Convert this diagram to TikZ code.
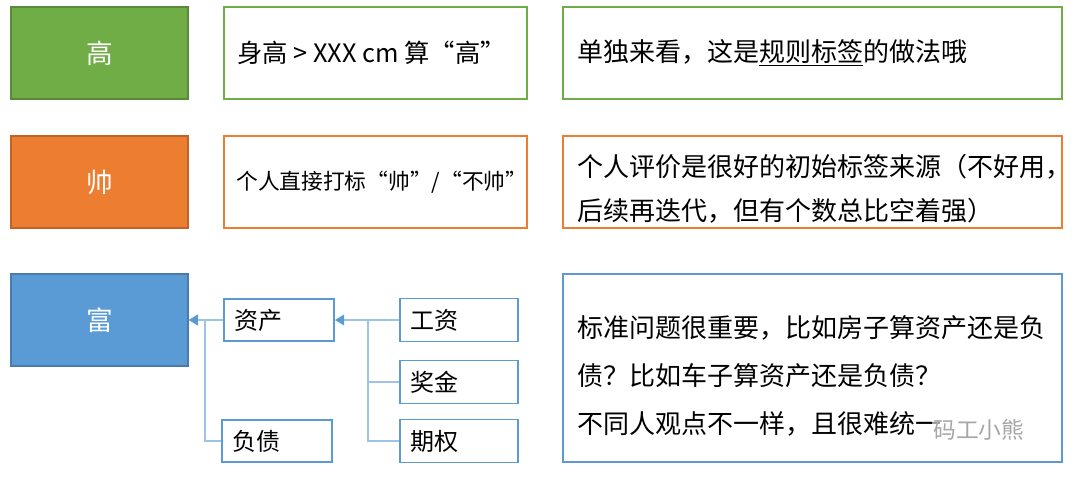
\documentclass[tikz,border=0pt]{standalone}
\usepackage{fontspec}
\setmainfont{Noto Sans CJK SC}
\usetikzlibrary{arrows.meta}
\definecolor{cg}{HTML}{70AD47}
\definecolor{co}{HTML}{ED7D31}
\definecolor{cb}{HTML}{5B9BD5}
\definecolor{cl}{HTML}{9DC3E6}
\begin{document}
\begin{tikzpicture}[x=0.75pt,y=-0.75pt,
  box/.style={draw=#1,line width=1.3pt,inner sep=0pt},
  head/.style={fill=#1,draw=#1!80!black,line width=0.8pt,text=white,font=\fontsize{20}{24}\selectfont},
  t/.style={font=\fontsize{19.5}{24}\selectfont,anchor=west,inner sep=0pt},
  s/.style={font=\fontsize{18}{22}\selectfont},
  conn/.style={draw=cl,line width=1.2pt},
  arr/.style={conn,-{Triangle[length=7pt,width=8pt,fill=cb,color=cb]}}]
\useasboundingbox (0,0) rectangle (1080,479);
% row 1
\node[head=cg,minimum width=177*0.75pt,minimum height=92*0.75pt] (h1) at (99.5,53) {高};
\draw[box=cg] (224,7) rectangle (527,99);
\node[t,font=\fontsize{19}{24}\selectfont] (t1) at (237,53) {身高 > XXX cm 算“高”};
\draw[box=cg] (563,7) rectangle (1062,99);
\node[t] (r1) at (577,53) {单独来看，这是\underline{规则标签}的做法哦};
% row 2
\node[head=co,minimum width=177*0.75pt,minimum height=92*0.75pt] (h2) at (99.5,182) {帅};
\draw[box=co] (224,136) rectangle (527,228);
\node[t,font=\fontsize{16.3}{20}\selectfont] (t2) at (236,182) {个人直接打标“帅”/“不帅”};
\draw[box=co] (563,136) rectangle (1062,228);
\node[t] (r2a) at (577,167) {个人评价是很好的初始标签来源（不好用，};
\node[t] (r2b) at (577,211) {后续再迭代，但有个数总比空着强）};
% row 3
\node[head=cb,minimum width=177*0.75pt,minimum height=92*0.75pt] (h3) at (99.5,320) {富};
\node[box=cb,s,minimum width=110*0.75pt,minimum height=42*0.75pt,text width=90*0.75pt,align=left] (za) at (279,320) {资产};
\node[box=cb,s,minimum width=110*0.75pt,minimum height=42*0.75pt,text width=90*0.75pt,align=left] (fz) at (277,441) {负债};
\node[box=cb,s,minimum width=118*0.75pt,minimum height=43*0.75pt,text width=98*0.75pt,align=left] (gz) at (459,320) {工资};
\node[box=cb,s,minimum width=118*0.75pt,minimum height=43*0.75pt,text width=98*0.75pt,align=left] (jj) at (459,382) {奖金};
\node[box=cb,s,minimum width=118*0.75pt,minimum height=43*0.75pt,text width=98*0.75pt,align=left] (qq) at (459,441) {期权};
\coordinate (b1) at (205,320);
\coordinate (b2) at (368,320);
\draw[arr] (za.west) -- (h3.east);
\draw[conn] (b1) |- (fz.west);
\draw[arr] (gz.west) -- (za.east);
\draw[conn] (b2) |- (jj.west);
\draw[conn] (b2) |- (qq.west);
\draw[box=cb] (563,274) rectangle (1062,462);
\node[t] (r3a) at (577,328) {标准问题很重要，比如房子算资产还是负};
\node[t] (r3b) at (577,376) {债？比如车子算资产还是负债？};
\node[t] (r3c) at (577,424) {不同人观点不一样，且很难统一};
\node[font=\fontsize{17}{20}\selectfont,text=gray!70,anchor=west,inner sep=1pt,fill=white,fill opacity=0.6,text opacity=1] (wm) at (932,430) {码工小熊};
\end{tikzpicture}
\end{document}
